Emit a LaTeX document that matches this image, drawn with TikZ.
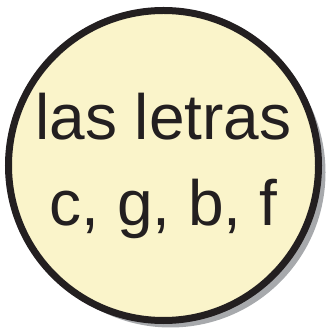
\documentclass[tikz,border=0pt]{standalone}
\usepackage{fontspec}
\setmainfont{Liberation Sans}
\usetikzlibrary{shadows}
\definecolor{circfill}{HTML}{FAF4CA}
\definecolor{circline}{HTML}{231F20}
\definecolor{circshadow}{HTML}{A7A9AC}
\tikzset{
	bubble/.style={circle, draw=circline, fill=circfill, line width=7pt, inner sep=0pt,
		minimum size=310pt, align=center, text=circline,
		font=\fontsize{64}{86}\selectfont,
		drop shadow={shadow xshift=7pt, shadow yshift=-7pt, fill=circshadow, opacity=1}}
}
\begin{document}
\begin{tikzpicture}[x=1pt, y=1pt]
	\useasboundingbox (0,0) rectangle (330,334);
	\node[bubble] (letras) at (163.5,168.5) {las letras\\c, g, b, f};
\end{tikzpicture}
\end{document}
